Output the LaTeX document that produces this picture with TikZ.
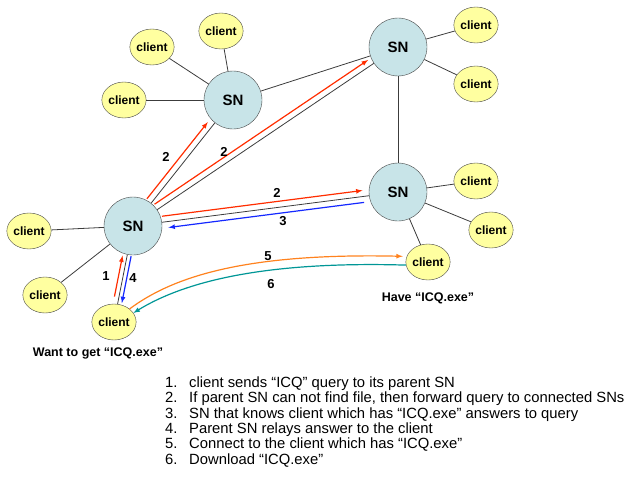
\documentclass[tikz,border=0pt]{standalone}
\usepackage{fontspec}
\setmainfont{Liberation Sans}
\usetikzlibrary{shapes.geometric, calc}

\definecolor{snfill}{RGB}{200,228,232}
\definecolor{clientfill}{RGB}{255,255,160}
\definecolor{rimgray}{RGB}{70,70,70}
\definecolor{linkgray}{RGB}{60,60,60}
\definecolor{queryred}{RGB}{255,45,0}
\definecolor{answerblue}{RGB}{20,40,255}
\definecolor{connorange}{RGB}{255,130,30}
\definecolor{loadteal}{RGB}{0,150,150}

\begin{document}
\begin{tikzpicture}[x=1pt, y=-1pt,
    sn/.style={circle, draw=rimgray, fill=snfill, minimum size=58pt, inner sep=0pt,
      font=\fontsize{15}{18}\selectfont\bfseries},
    client/.style={ellipse, draw=rimgray, fill=clientfill, minimum width=43pt, minimum height=36pt,
      inner sep=0pt, font=\fontsize{12}{14}\selectfont\bfseries},
    link/.style={draw=linkgray, line width=0.8pt},
    msg/.style={-latex, line width=1.2pt},
    num/.style={font=\fontsize{13}{15}\selectfont\bfseries},
    note/.style={font=\fontsize{12.5}{15}\selectfont\bfseries},
    item/.style={anchor=base west, inner sep=0pt, font=\fontsize{14.8}{17}\selectfont}]
    \useasboundingbox (0,0) rectangle (631,487);

    % Super nodes
    \node[sn] (sn1) at (233,100) {SN};
    \node[sn] (sn2) at (398,47) {SN};
    \node[sn] (sn3) at (398,192) {SN};
    \node[sn] (sn4) at (133,226) {SN};

    % Clients
    \foreach \name/\x/\y in {ca/152/47, cb/221/31, cc/124/100, cd/476/25, ce/476/84,
                             cf/476/181, cg/491/230, ch/428/262, ci/29/231, cj/45/295, ck/114/322} {
      \node[client] (\name) at (\x,\y) {client};
    }

    % Links
    \foreach \a/\b in {sn1/ca, sn1/cb, sn1/cc, sn1/sn2, sn2/cd, sn2/ce, sn2/sn3, sn3/cf, sn3/cg, sn3/ch,
                       sn4/sn1, sn4/sn2, sn4/sn3, sn4/ci, sn4/cj, sn4/ck} {
      \draw[link] (\a) -- (\b);
    }

    % Step 1 and 4
    \draw[msg, queryred, shorten <=25pt, shorten >=31pt] ($(ck)!4.5pt!90:(sn4)$) -- ($(sn4)!4.5pt!-90:(ck)$);
    \draw[msg, answerblue, shorten <=30pt, shorten >=20pt] ($(sn4)!4pt!90:(ck)$) -- ($(ck)!4pt!-90:(sn4)$);

    % Step 2
    \draw[msg, queryred, shorten <=30pt, shorten >=33pt] ($(sn4)!6pt!90:(sn1)$) -- ($(sn1)!6pt!-90:(sn4)$);
    \draw[msg, queryred, shorten <=30pt, shorten >=32pt] ($(sn4)!6pt!90:(sn2)$) -- ($(sn2)!6pt!-90:(sn4)$);
    \draw[msg, queryred, shorten <=30pt, shorten >=35pt] ($(sn4)!6pt!90:(sn3)$) -- ($(sn3)!6pt!-90:(sn4)$);

    % Step 3
    \draw[msg, answerblue, shorten <=35pt, shorten >=35pt] ($(sn3)!6pt!90:(sn4)$) -- ($(sn4)!6pt!-90:(sn3)$);

    % Step 5 and 6
    \draw[msg, connorange] (ck.40) .. controls (175,275) and (250,253) .. ([xshift=-4pt]ch.165);
    \draw[msg, loadteal] (ch.188) .. controls (300,262) and (200,272) .. (ck.25);

    % Step numbers
    \node[num] (n1) at (106,276) {1};
    \node[num] (n2a) at (166,157) {2};
    \node[num] (n2b) at (224,152) {2};
    \node[num] (n2c) at (277,193) {2};
    \node[num] (n3) at (283,221) {3};
    \node[num] (n4) at (133,278) {4};
    \node[num] (n5) at (268,256) {5};
    \node[num] (n6) at (271,284) {6};

    % Notes under the clients
    \node[note] (want) at (98,353) {Want to get “ICQ.exe”};
    \node[note] (have) at (428,298) {Have “ICQ.exe”};

    % Steps list
    \foreach \i/\y/\txt in {1/387/{client sends “ICQ” query to its parent SN},
                            2/402/{If parent SN can not find file, then forward query to connected SNs},
                            3/418/{SN that knows client which has “ICQ.exe” answers to query},
                            4/433/{Parent SN relays answer to the client},
                            5/448/{Connect to the client which has “ICQ.exe”},
                            6/464/{Download “ICQ.exe”}} {
      \node[item] (num\i) at (165,\y) {\i.};
      \node[item] (step\i) at (189,\y) {\txt};
    }
\end{tikzpicture}
\end{document}
